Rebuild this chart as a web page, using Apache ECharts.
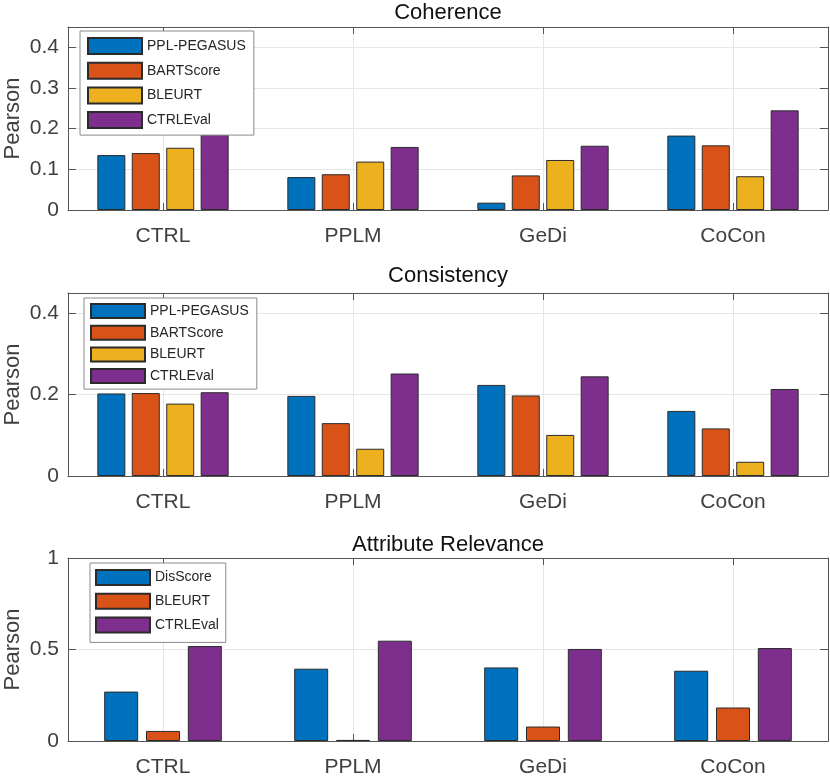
<!DOCTYPE html>
<html><head><meta charset="utf-8">
<script src="https://cdn.jsdelivr.net/npm/echarts@6/dist/echarts.min.js"></script>
<style>html,body{margin:0;padding:0;background:#fff}#c{width:830px;height:776px}</style>
</head><body><div id="c"></div>
<script>
// ---------- data ----------
const categories = ['CTRL', 'PPLM', 'GeDi', 'CoCon'];
const titles = ['Coherence', 'Consistency', 'Attribute Relevance'];
const yLabel = 'Pearson';

const coherenceNames = ['PPL-PEGASUS', 'BARTScore', 'BLEURT', 'CTRLEval'];
const coherencePPL = [0.135, 0.081, 0.018, 0.183];
const coherenceBART = [0.140, 0.088, 0.085, 0.159];
const coherenceBLEURT = [0.153, 0.119, 0.123, 0.083];
const coherenceCTRLEval = [0.200, 0.155, 0.158, 0.245];

const consistencyNames = ['PPL-PEGASUS', 'BARTScore', 'BLEURT', 'CTRLEval'];
const consistencyPPL = [0.203, 0.197, 0.224, 0.160];
const consistencyBART = [0.204, 0.130, 0.198, 0.117];
const consistencyBLEURT = [0.178, 0.067, 0.101, 0.035];
const consistencyCTRLEval = [0.206, 0.252, 0.245, 0.214];

const relevanceNames = ['DisScore', 'BLEURT', 'CTRLEval'];
const relevanceDis = [0.270, 0.395, 0.402, 0.384];
const relevanceBLEURT = [0.055, 0.006, 0.079, 0.183];
const relevanceCTRLEval = [0.519, 0.548, 0.503, 0.508];

const yTicks1 = { max: 0.45, interval: 0.1 };
const yTicks2 = { max: 0.45, interval: 0.2 };
const yTicks3 = { max: 1, interval: 0.5 };

// ---------- styling / layout ----------
const C = { blue: '#0072BD', orange: '#D95319', yellow: '#EDB120', purple: '#7E2F8E' };
const FONT = '"Liberation Sans", Arial, Helvetica, sans-serif';
const axisCol = '#555555';
const textCol = '#404040';

const panels = [
  { title: titles[0], names: coherenceNames, values: [coherencePPL, coherenceBART, coherenceBLEURT, coherenceCTRLEval],
    colors: [C.blue, C.orange, C.yellow, C.purple], ticks: yTicks1, suffix: '',
    top: 27, titleTop: 2, barWidth: 28,
    legend: { left: 80, top: 31, padding: [6, 8, 6, 7], itemHeight: 16, itemGap: 6.7 } },
  { title: titles[1], names: consistencyNames, values: [consistencyPPL, consistencyBART, consistencyBLEURT, consistencyCTRLEval],
    colors: [C.blue, C.orange, C.yellow, C.purple], ticks: yTicks2, suffix: '',
    top: 293, titleTop: 265, barWidth: 28,
    legend: { left: 84, top: 298, padding: [5, 8, 5, 6], itemHeight: 14, itemGap: 5.7 } },
  { title: titles[2], names: relevanceNames, values: [relevanceDis, relevanceBLEURT, relevanceCTRLEval],
    colors: [C.blue, C.orange, C.purple], ticks: yTicks3, suffix: ' ',
    top: 558, titleTop: 534, barWidth: 34,
    legend: { left: 90, top: 563, padding: [6, 7, 9, 5], itemHeight: 15, itemGap: 6.7 } }
];

const option = {
  animation: false,
  backgroundColor: '#fff',
  textStyle: { fontFamily: FONT },
  title: [], legend: [], grid: [], xAxis: [], yAxis: [], series: []
};

panels.forEach((p, i) => {
  option.title.push({
    text: p.title, left: 448, top: p.titleTop, textAlign: 'center', padding: 0,
    textStyle: { fontFamily: FONT, fontSize: 22, fontWeight: 'normal', color: '#111' }
  });
  option.grid.push({ left: 68, top: p.top, width: 760, height: 183, containLabel: false, outerBoundsMode: 'none' });
  const xb = option.xAxis.length;
  option.xAxis.push({
    type: 'category', gridIndex: i, data: categories, position: 'bottom',
    axisLine: { show: true, lineStyle: { color: axisCol, width: 1 } },
    axisTick: { show: true, inside: true, alignWithLabel: true, length: 7, lineStyle: { color: axisCol } },
    axisLabel: { fontFamily: FONT, fontSize: 21, color: textCol, margin: 16 },
    splitLine: { show: false }
  });
  option.xAxis.push({
    type: 'category', gridIndex: i, data: categories, position: 'top',
    axisLine: { show: true, onZero: false, lineStyle: { color: axisCol, width: 1 } },
    axisTick: { show: true, inside: true, alignWithLabel: true, length: 7, lineStyle: { color: axisCol } },
    axisLabel: { show: false }, splitLine: { show: false }
  });
  const yb = option.yAxis.length;
  option.yAxis.push({
    type: 'value', gridIndex: i, min: 0, max: p.ticks.max, interval: p.ticks.interval, position: 'left',
    name: yLabel, nameLocation: 'middle', nameGap: 44, nameRotate: 90, nameMoveOverlap: false,
    nameTextStyle: { fontFamily: FONT, fontSize: 22, color: textCol },
    axisLine: { show: true, lineStyle: { color: axisCol, width: 1 } },
    axisTick: { show: true, inside: true, length: 8, lineStyle: { color: axisCol } },
    axisLabel: { fontFamily: FONT, fontSize: 21, color: textCol, margin: 9, showMaxLabel: p.ticks.max === 1 },
    splitLine: { show: true, lineStyle: { color: '#e6e6e6', width: 1 } }
  });
  option.yAxis.push({
    type: 'value', gridIndex: i, min: 0, max: p.ticks.max, interval: p.ticks.interval, position: 'right',
    axisLine: { show: true, lineStyle: { color: axisCol, width: 1 } },
    axisTick: { show: true, inside: true, length: 8, lineStyle: { color: axisCol } },
    axisLabel: { show: false }, splitLine: { show: false }
  });
  // vertical grid lines at category centres
  option.series.push({
    type: 'line', xAxisIndex: xb, yAxisIndex: yb, data: [], z: 0, silent: true,
    markLine: {
      silent: true, symbol: 'none', label: { show: false }, z: 0,
      lineStyle: { color: '#e6e6e6', type: 'solid', width: 1 },
      emphasis: { disabled: true },
      data: categories.map(c => ({ xAxis: c }))
    }
  });
  const seriesNames = p.names.map(n => n + p.suffix);
  p.values.forEach((vals, k) => {
    option.series.push({
      type: 'bar', name: seriesNames[k], xAxisIndex: xb, yAxisIndex: yb, data: vals,
      barWidth: p.barWidth, barGap: '23%', z: 2,
      itemStyle: { color: p.colors[k], borderColor: '#2b2b2b', borderWidth: 1 },
      emphasis: { disabled: true }
    });
  });
  option.legend.push({
    orient: 'vertical', left: p.legend.left, top: p.legend.top, padding: p.legend.padding,
    itemWidth: 54, itemHeight: p.legend.itemHeight, itemGap: p.legend.itemGap, z: 10,
    backgroundColor: '#fff', borderColor: '#8a8a8a', borderWidth: 1, borderRadius: 0,
    icon: 'rect', selectedMode: false,
    data: seriesNames,
    formatter: n => n.replace(/\s+$/, ''),
    textStyle: { fontFamily: FONT, fontSize: 14, color: '#262626', padding: [0, 0, 0, 0] }
  });
});

const chart = echarts.init(document.getElementById('c'), null, { renderer: 'canvas' });
chart.setOption(option);
</script></body></html>
